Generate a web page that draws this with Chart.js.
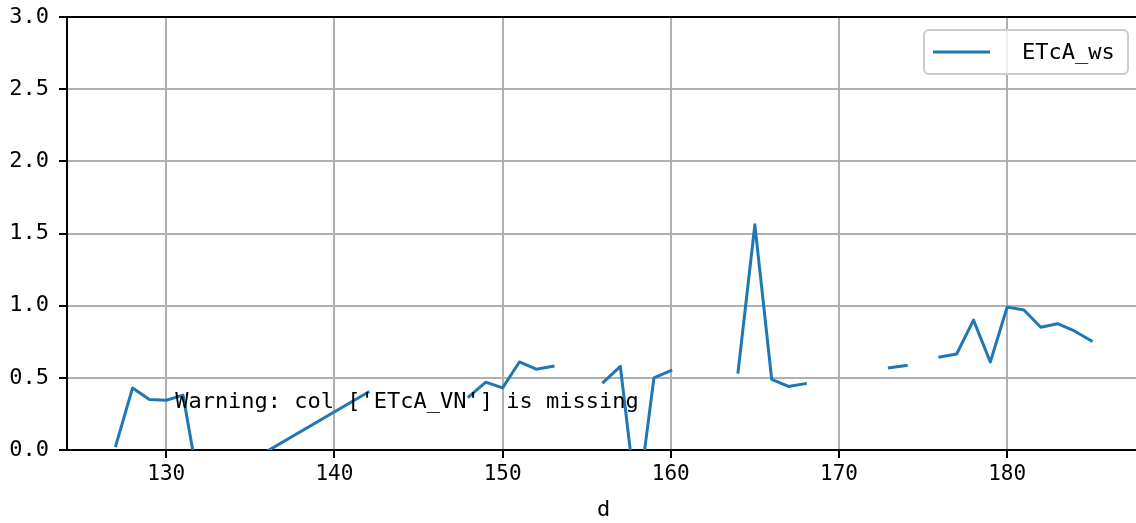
<!DOCTYPE html>
<html>
<head>
<meta charset="utf-8">
<script src="https://cdn.jsdelivr.net/npm/chart.js@4.4.1/dist/chart.umd.min.js"></script>
<style>
    html, body { margin: 0; padding: 0; background: #fff; overflow: hidden; }
    #chart { display: block; }
</style>
</head>
<body>
<canvas id="chart" width="1141" height="523"></canvas>
<script>
// data (null = NaN gap, days 133-141 not in index)
const days = [127, 128, 129, 130, 131, 132, 142, 143, 144, 145, 146, 147, 148, 149, 150,
    151, 152, 153, 154, 155, 156, 157, 158, 159, 160, 161, 162, 163, 164, 165, 166, 167,
    168, 169, 170, 171, 172, 173, 174, 175, 176, 177, 178, 179, 180, 181, 182, 183, 184, 185];
const etcaWs = [0.03, 0.43, 0.35, 0.345, 0.38, -0.28, 0.40, null, null, null, null, null, 0.37, 0.47, 0.43,
    0.61, 0.56, 0.58, null, null, 0.47, 0.58, -0.40, 0.50, 0.55, null, null, null, 0.54, 1.56, 0.49, 0.44,
    0.46, null, null, null, null, 0.57, 0.585, null, 0.645, 0.665, 0.90, 0.61, 0.99, 0.97, 0.85, 0.875, 0.825, 0.757];
const xTicks = [130, 140, 150, 160, 170, 180];
const yTicks = [0, 0.5, 1, 1.5, 2, 2.5, 3];
const yTickLabels = ['0.0', '0.5', '1.0', '1.5', '2.0', '2.5', '3.0'];
const seriesName = 'ETcA_ws';
const warningText = "Warning: col ['ETcA_VN'] is missing";

const MONO = '"DejaVu Sans Mono", monospace';

document.addEventListener('DOMContentLoaded', () => {
    initChart();
});

// top spine, annotation text and matplotlib-like legend box
const extrasPlugin = {
    id: 'extras',
    afterDatasetsDraw(chart) {
        const { ctx, chartArea, scales } = chart;
        ctx.save();
        // top spine
        ctx.strokeStyle = '#000';
        ctx.lineWidth = 2;
        ctx.beginPath();
        ctx.moveTo(chartArea.left - 1, chartArea.top);
        ctx.lineTo(chartArea.right, chartArea.top);
        ctx.stroke();

        // warning text
        ctx.fillStyle = '#000';
        ctx.font = '22px ' + MONO;
        ctx.textBaseline = 'alphabetic';
        ctx.textAlign = 'left';
        ctx.fillText(warningText, scales.x.getPixelForValue(130.53), scales.y.getPixelForValue(0.29));
        ctx.restore();
    },
    afterDraw(chart) {
        const { ctx, chartArea } = chart;
        const ds = chart.data.datasets[0];
        const right = chartArea.right - 12;
        const left = right - 204;
        const top = chartArea.top + 13;
        const h = 44;
        ctx.save();
        ctx.fillStyle = 'rgba(255,255,255,0.8)';
        ctx.strokeStyle = '#cccccc';
        ctx.lineWidth = 2;
        ctx.beginPath();
        ctx.roundRect(left, top, right - left, h, 5);
        ctx.fill();
        ctx.stroke();

        const cy = top + h / 2;
        ctx.strokeStyle = ds.borderColor;
        ctx.lineWidth = 3;
        ctx.beginPath();
        ctx.moveTo(left + 9, cy);
        ctx.lineTo(left + 66, cy);
        ctx.stroke();

        ctx.fillStyle = '#000';
        ctx.font = '22px ' + MONO;
        ctx.textBaseline = 'middle';
        ctx.fillText(ds.label, left + 98, cy + 1);
        ctx.restore();
    }
};

function initChart() {
    const ctx = document.getElementById('chart').getContext('2d');
    new Chart(ctx, {
        type: 'line',
        data: {
            datasets: [{
                label: seriesName,
                data: days.map((d, i) => ({ x: d, y: etcaWs[i] })),
                borderColor: '#1f77b4',
                borderWidth: 3,
                borderJoinStyle: 'round',
                borderCapStyle: 'square',
                pointRadius: 0,
                tension: 0,
                spanGaps: false,
                fill: false,
                clip: 0
            }]
        },
        options: {
            responsive: false,
            animation: false,
            devicePixelRatio: 1,
            layout: { padding: { top: 17, right: 1, left: 0, bottom: 0 } },
            plugins: {
                legend: { display: false },
                tooltip: { enabled: false }
            },
            scales: {
                x: {
                    type: 'linear',
                    min: 124.1,
                    max: 187.9,
                    afterBuildTicks: (scale) => { scale.ticks = xTicks.map(v => ({ value: v })); },
                    afterFit: (scale) => {
                        scale.height = 73;
                        scale.paddingLeft = 0;
                        scale.paddingRight = 0;
                    },
                    grid: {
                        color: '#b0b0b0',
                        lineWidth: 2,
                        tickColor: '#000',
                        tickLength: 8,
                        tickWidth: 2
                    },
                    border: { color: '#000', width: 2 },
                    ticks: {
                        color: '#000',
                        font: { family: MONO, size: 21 },
                        padding: 4,
                        maxRotation: 0,
                        callback: (v) => String(v)
                    },
                    title: {
                        display: true,
                        text: 'd',
                        color: '#000',
                        font: { family: MONO, size: 22 },
                        padding: { top: 0, bottom: 0 }
                    }
                },
                y: {
                    min: 0,
                    max: 3,
                    afterBuildTicks: (scale) => { scale.ticks = yTicks.map(v => ({ value: v })); },
                    afterFit: (scale) => {
                        scale.width = 67;
                        scale.paddingTop = 0;
                        scale.paddingBottom = 0;
                    },
                    grid: {
                        color: '#b0b0b0',
                        lineWidth: 2,
                        tickColor: '#000',
                        tickLength: 8,
                        tickWidth: 2
                    },
                    border: { color: '#000', width: 2 },
                    ticks: {
                        color: '#000',
                        font: { family: MONO, size: 22 },
                        padding: 10,
                        callback: (v, i) => yTickLabels[i]
                    }
                }
            }
        },
        plugins: [extrasPlugin]
    });
}
</script>
</body>
</html>
